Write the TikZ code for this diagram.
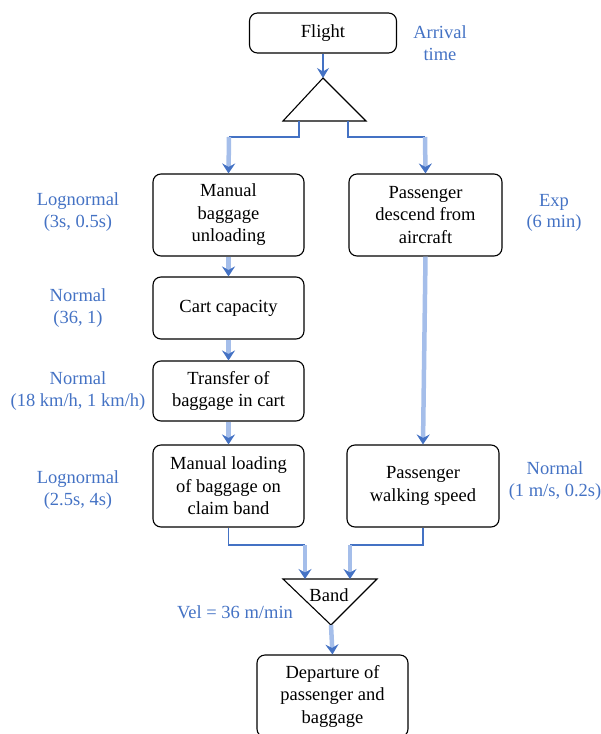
\documentclass[tikz,border=0pt]{standalone}
\usepackage{fontspec}
\setmainfont{Liberation Serif}
\usetikzlibrary{arrows.meta}
\definecolor{lblue}{RGB}{68,114,196}
\definecolor{pblue}{RGB}{165,190,234}
\begin{document}
\begin{tikzpicture}[x=1pt,y=-1pt,
  box/.style={draw,rounded corners=8pt,line width=1.1pt,align=center,inner sep=0pt,
    font=\fontsize{18.5}{22.5}\selectfont},
  lab/.style={text=lblue,align=center,font=\fontsize{18.5}{21.5}\selectfont},
  thinl/.style={draw=lblue,line width=1.2pt},
  thinarr/.style={draw=lblue,line width=1.2pt,-{Stealth[length=10pt,width=12pt,inset=3.5pt]}},
  flow/.style={draw=pblue,line width=4.5pt,-{Stealth[length=10pt,width=13pt,inset=3.5pt,color=lblue]}},
  tri/.style={draw,line width=1.1pt,line join=miter}]
\useasboundingbox (0,0) rectangle (601,734);

% boxes
\node[box,minimum width=147pt,minimum height=40pt] (flight) at (323,33) {Flight};
\node[box,minimum width=151pt,minimum height=82pt] (mbu) at (228.5,215) {Manual\\baggage\\unloading};
\node[box,minimum width=153pt,minimum height=82pt] (pda) at (425.5,215) {Passenger\\descend from\\aircraft};
\node[box,minimum width=151pt,minimum height=62pt] (cart) at (228.5,308) {Cart capacity};
\node[box,minimum width=151pt,minimum height=60pt] (trans) at (228.5,391) {Transfer of\\baggage in cart};
\node[box,minimum width=151pt,minimum height=82pt] (mlb) at (228.5,486) {Manual loading\\of baggage on\\claim band};
\node[box,minimum width=152pt,minimum height=82pt] (pws) at (423,486) {Passenger\\walking speed};
\node[box,minimum width=151pt,minimum height=82pt] (dep) at (332.5,696) {Departure of\\passenger and\\baggage};

% triangles
\coordinate (ta) at (323,78);
\coordinate (tl) at (283,121);
\coordinate (tr) at (366,121);
\draw[tri] (ta) -- (tl) -- (tr) -- cycle;
\coordinate (bl) at (283,579);
\coordinate (br) at (377,579);
\coordinate (bb) at (331,625);
\draw[tri] (bl) -- (br) -- (bb) -- cycle;
\node[font=\fontsize{18.5}{22}\selectfont] (band) at (329,595) {Band};

% labels
\node[lab] (l0) at (440,43) {Arrival\\time};
\node[lab] (l1) at (78,212) {Lognormal\\(3s, 0.5s)};
\node[lab] (l2) at (554,213) {Exp\\(6 min)};
\node[lab] (l3) at (78,308) {Normal\\(36, 1)};
\node[lab] (l4) at (78,391) {Normal\\(18 km/h, 1 km/h)};
\node[lab] (l5) at (78,490) {Lognormal\\(2.5s, 4s)};
\node[lab] (l6) at (555,481) {Normal\\(1 m/s, 0.2s)};
\node[lab] (l7) at (235,612) {Vel = 36 m/min};

% connectors
\draw[thinarr] (flight.south) -- (ta);
\coordinate (tA) at (299,121);
\coordinate (tB) at (348,121);
\coordinate (c1) at (229,137);
\coordinate (c2) at (425,137);
\draw[thinl] (tA) |- (c1);
\draw[thinl] (tB) |- (c2);
\draw[flow] (c1) -- (mbu.north);
\draw[flow] (c2) -- (pda.north);
\draw[flow] (mbu.south) -- (cart.north);
\draw[flow] (cart.south) -- (trans.north);
\draw[flow] (trans.south) -- (mlb.north);
\draw[flow] (pda.south) -- (pws.north);

\coordinate (j1) at (305,545);
\coordinate (j2) at (350,545);
\coordinate (bL) at (305,579);
\coordinate (bR) at (350,579);
\draw[thinl] (mlb.south) |- (j1);
\draw[thinl] (pws.south) |- (j2);
\draw[flow] (j1) -- (bL);
\draw[flow] (j2) -- (bR);
\draw[flow] (bb) -- (dep.north);
\end{tikzpicture}
\end{document}
